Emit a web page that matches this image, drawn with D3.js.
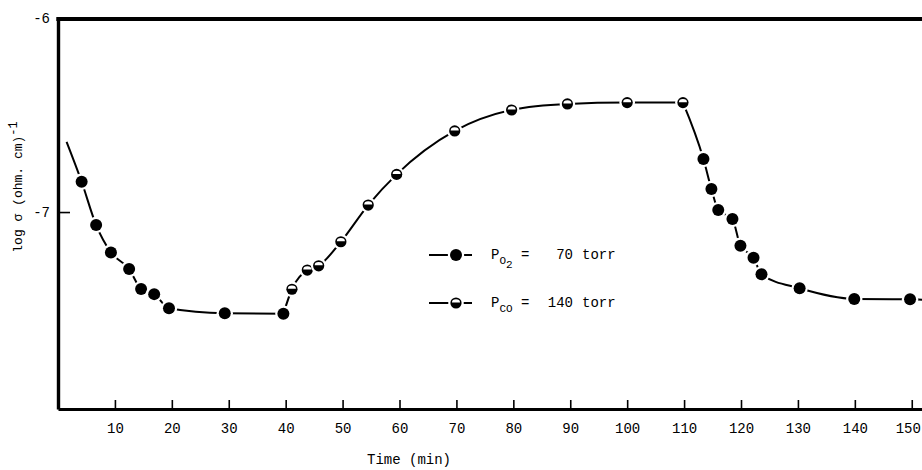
<!DOCTYPE html>
<html>
<head>
<meta charset="utf-8">
<script src="https://cdn.jsdelivr.net/npm/d3@7"></script>
<style>
  html, body { margin: 0; padding: 0; background: #fff; }
  svg { display: block; }
  text { font-family: "Liberation Mono", "DejaVu Sans Mono", monospace; fill: #000; }
</style>
</head>
<body>
<svg id="chart" width="922" height="470"></svg>
<script>
// ---- data ----
const xTicks = [10, 20, 30, 40, 50, 60, 70, 80, 90, 100, 110, 120, 130, 140, 150];
const yTicks = [-6, -7];

// P_O2 = 70 torr (filled markers)
const o2Time = [4.15, 6.7, 9.3, 12.5, 14.6, 16.9, 19.5, 29.3, 39.6,
                113.4, 114.8, 116.0, 118.5, 119.9, 122.2, 123.6, 130.3, 139.9, 149.7];
const o2Log  = [-6.844, -7.067, -7.208, -7.294, -7.397, -7.423, -7.496, -7.522, -7.524,
                -6.727, -6.881, -6.990, -7.036, -7.174, -7.235, -7.321, -7.393, -7.448, -7.450];

// P_CO = 140 torr (half-filled markers)
const coTime = [41.1, 43.8, 45.8, 49.7, 54.5, 59.5, 69.7, 79.7, 89.5, 100.0, 109.8];
const coLog  = [-7.398, -7.299, -7.277, -7.153, -6.964, -6.806, -6.582, -6.474, -6.443, -6.436, -6.436];

// ends of the drawn curve beyond the markers
const curveStartTime = 1.5,  curveStartLog = -6.638;
const curveEndTime   = 152,  curveEndLog   = -7.452;

// ---- layout ----
const svg = d3.select("#chart");
const x = d3.scaleLinear().domain([0, 151.8]).range([58, 922]);
const y = d3.scaleLinear().domain([-8.015, -6]).range([409, 18]);

// ---- curve segments ----
const o2Pts = o2Time.map((t, i) => ({t, v: o2Log[i], s: "o2"}));
const coPts = coTime.map((t, i) => ({t, v: coLog[i], s: "co"}));
const segA = [{t: curveStartTime, v: curveStartLog}].concat(o2Pts.filter(d => d.t < 40));
const segB = [o2Pts.filter(d => d.t < 40).slice(-1)[0]].concat(coPts);
const segC = [coPts.slice(-1)[0]].concat(o2Pts.filter(d => d.t > 110), [{t: curveEndTime, v: curveEndLog}]);

const line = d3.line().x(d => x(d.t)).y(d => y(d.v)).curve(d3.curveMonotoneX);
svg.append("g").selectAll("path").data([segA, segB, segC]).join("path")
  .attr("d", line).attr("fill", "none").attr("stroke", "#000").attr("stroke-width", 2);

// ---- markers ----
function drawMarker(g, kind, r) {
  g.append("circle").attr("r", r + 2.2).attr("fill", "#fff");
  g.append("circle").attr("r", r).attr("fill", "#000");
  if (kind === "co") {
    const a = r * 0.72, b = r * 0.58, y0 = -r * 0.08;
    g.append("path")
      .attr("d", `M${-a},${y0} A${a},${b} 0 0 1 ${a},${y0} Z`)
      .attr("fill", "#fff");
  }
}
const allPts = o2Pts.concat(coPts);
svg.append("g").selectAll("g").data(allPts).join("g")
  .attr("transform", d => `translate(${x(d.t)},${y(d.v)})`)
  .each(function(d) { drawMarker(d3.select(this), d.s, d.s === "o2" ? 6 : 5.6); });

// ---- axes ----
const xAxis = d3.axisBottom(x).tickValues(xTicks).tickSizeInner(-9).tickSizeOuter(0).tickPadding(14)
  .tickFormat(d3.format("d"));
const gx = svg.append("g").attr("transform", "translate(0,409)").call(xAxis);
gx.select(".domain").attr("stroke-width", 3.2).attr("stroke", "#000");
gx.selectAll(".tick line").attr("stroke-width", 1.6).attr("stroke", "#000");
gx.selectAll(".tick text").attr("font-size", 14).attr("font-family", "Liberation Mono")
  .attr("dx", d => d === 150 ? -4 : 0);

const yAxis = d3.axisLeft(y).tickValues(yTicks).tickSizeInner(-12).tickSizeOuter(0).tickPadding(8)
  .tickFormat(d => "-" + Math.abs(d));
const gy = svg.append("g").attr("transform", "translate(58,0)").call(yAxis);
gy.select(".domain").attr("stroke-width", 3.4).attr("stroke", "#000");
gy.selectAll(".tick line").attr("stroke-width", 1.6).attr("stroke", "#000");
gy.selectAll(".tick text").attr("font-size", 14).attr("font-family", "Liberation Mono");

// top frame line
svg.append("line").attr("x1", x(0) - 1.7).attr("x2", x(151.8)).attr("y1", y(-6) + 1).attr("y2", y(-6) + 1)
  .attr("stroke", "#000").attr("stroke-width", 4);

// ---- axis titles ----
svg.append("text").attr("x", 409).attr("y", 464).attr("text-anchor", "middle")
  .attr("font-size", 14).text("Time (min)");

const yl = svg.append("text").attr("transform", "translate(22,187) rotate(-90)")
  .attr("text-anchor", "middle").attr("font-size", 13);
yl.append("tspan").text("log σ (ohm. cm)");
yl.append("tspan").attr("dy", -5).attr("font-size", 12).text("-1");

// ---- legend ----
const legend = [
  {kind: "o2", yy: 255, sub: "O", sub2: "2", num: "70"},
  {kind: "co", yy: 303, sub: "CO", sub2: "", num: "140"}
];
legend.forEach(L => {
  const g = svg.append("g");
  g.append("line").attr("x1", 429).attr("x2", 472).attr("y1", L.yy).attr("y2", L.yy)
    .attr("stroke", "#000").attr("stroke-width", 2);
  const m = g.append("g").attr("transform", `translate(456,${L.yy})`);
  drawMarker(m, L.kind, L.kind === "o2" ? 6 : 5.6);
  const t = g.append("text").attr("x", 491).attr("y", L.yy + 4).attr("font-size", 14);
  t.append("tspan").text("P");
  t.append("tspan").attr("dy", 5).attr("font-size", 11).text(L.sub);
  if (L.sub2) t.append("tspan").attr("dy", 4).attr("font-size", 11).text(L.sub2);
  g.append("text").attr("x", 521).attr("y", L.yy + 4).attr("font-size", 14).text("=");
  g.append("text").attr("x", 573).attr("y", L.yy + 4).attr("font-size", 14).attr("text-anchor", "end").text(L.num);
  g.append("text").attr("x", 582).attr("y", L.yy + 4).attr("font-size", 14).text("torr");
});
</script>
</body>
</html>
